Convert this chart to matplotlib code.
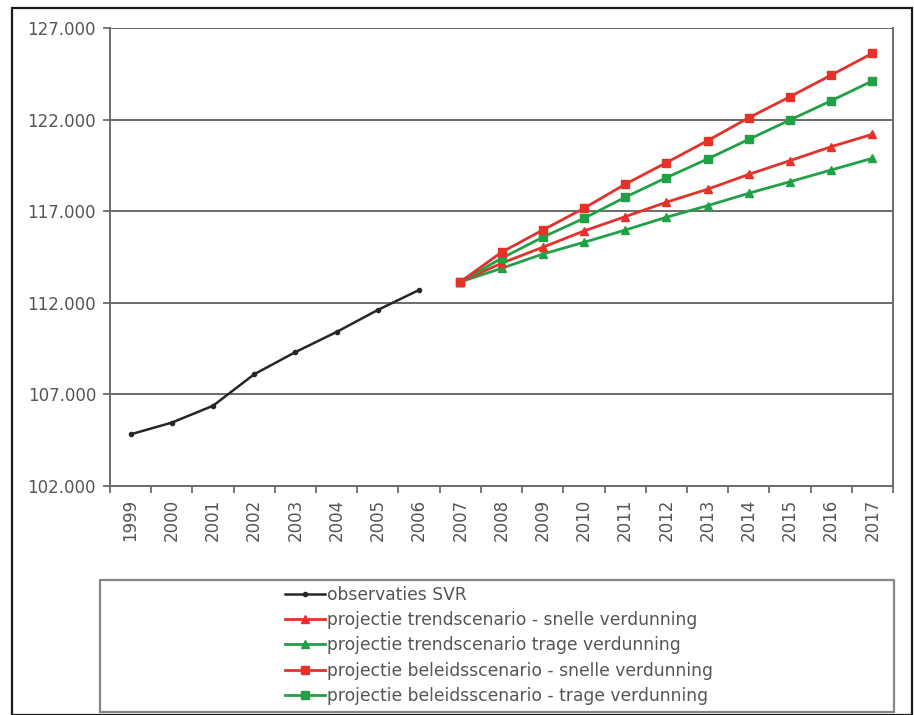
import matplotlib
matplotlib.use("Agg")
import matplotlib.pyplot as plt
from matplotlib.patches import Rectangle
from matplotlib.lines import Line2D
from matplotlib.ticker import FuncFormatter, FixedLocator

plt.rcParams['font.family'] = ['DejaVu Sans']

years = list(range(1999, 2018))
obs_years = list(range(1999, 2007))
proj_years = list(range(2007, 2018))

observaties_svr = [104820, 105460, 106380, 108100, 109310, 110410, 111610, 112700]
trend_snel = [113140, 114160, 115030, 115920, 116700, 117490, 118200, 119010, 119760, 120520, 121200]
trend_traag = [113140, 113880, 114660, 115300, 115970, 116670, 117300, 117980, 118610, 119250, 119890]
beleid_snel = [113140, 114760, 115970, 117160, 118470, 119650, 120850, 122100, 123250, 124430, 125620]
beleid_traag = [113140, 114430, 115580, 116610, 117760, 118830, 119850, 120920, 121980, 123030, 124110]

labels = [
    "observaties SVR",
    "projectie trendscenario - snelle verdunning",
    "projectie trendscenario trage verdunning",
    "projectie beleidsscenario - snelle verdunning",
    "projectie beleidsscenario - trage verdunning",
]

RED = "#e2322a"
GREEN = "#22a046"
DARK = "#262626"
GRID = "#6e6a6a"
TXT = "#585454"

W, H = 914, 715
fig = plt.figure(figsize=(W / 100, H / 100), dpi=100)
fig.patch.set_facecolor("white")

# outer frame
fig.add_artist(Rectangle((12 / W, 0), 900 / W, 1 - 8 / H, transform=fig.transFigure,
                         fill=False, edgecolor="#1a1a1a", linewidth=1.6))

left, right, top, bottom = 110, 893, 28, 486
ax = fig.add_axes([left / W, 1 - bottom / H, (right - left) / W, (bottom - top) / H])

idx = {y: i for i, y in enumerate(years)}
xo = [idx[y] for y in obs_years]
xp = [idx[y] for y in proj_years]

ax.plot(xo, observaties_svr, color=DARK, lw=1.8, marker="o", ms=3, zorder=5)
ax.plot(xp, trend_traag, color=GREEN, lw=2.0, marker="^", ms=6, zorder=4)
ax.plot(xp, trend_snel, color=RED, lw=2.0, marker="^", ms=6, zorder=4)
ax.plot(xp, beleid_traag, color=GREEN, lw=2.0, marker="s", ms=5.5, zorder=4)
ax.plot(xp, beleid_snel, color=RED, lw=2.0, marker="s", ms=5.5, zorder=4)

ax.set_xlim(-0.5, len(years) - 0.5)
ax.set_ylim(102000, 127000)
ax.set_yticks(range(102000, 127001, 5000))
ax.yaxis.set_major_formatter(FuncFormatter(lambda v, p: f"{int(v):,}".replace(",", ".")))
ax.grid(axis="y", color=GRID, lw=1.4)
ax.set_axisbelow(True)

ax.set_xticks(range(len(years)))
ax.set_xticklabels([str(y) for y in years], rotation=90)
ax.xaxis.set_minor_locator(FixedLocator([i - 0.5 for i in range(len(years) + 1)]))
ax.tick_params(axis="x", which="major", length=0, pad=9, labelsize=12, labelcolor=TXT)
ax.tick_params(axis="x", which="minor", length=5, width=1.3, color=GRID, direction="out")
ax.tick_params(axis="y", length=5, width=1.3, color=GRID, pad=5, labelsize=12, labelcolor=TXT)

for s in ["left", "bottom", "right"]:
    ax.spines[s].set_color(GRID)
    ax.spines[s].set_linewidth(1.4)
ax.spines["top"].set_visible(False)

# legend box
fig.add_artist(Rectangle((100 / W, 1 - 712 / H), 794 / W, 132 / H, transform=fig.transFigure,
                         fill=False, edgecolor="#8a8686", linewidth=1.6))
handles = [
    Line2D([], [], color=DARK, lw=1.8, marker="o", ms=3),
    Line2D([], [], color=RED, lw=2.0, marker="^", ms=6),
    Line2D([], [], color=GREEN, lw=2.0, marker="^", ms=6),
    Line2D([], [], color=RED, lw=2.0, marker="s", ms=5.5),
    Line2D([], [], color=GREEN, lw=2.0, marker="s", ms=5.5),
]
leg = fig.legend(handles, labels, loc="upper left", bbox_to_anchor=(285 / W, 1 - 586 / H),
                 frameon=False, fontsize=12.3, handlelength=2.35, handletextpad=0.12,
                 labelspacing=0.42, borderaxespad=0, borderpad=0)
for t in leg.get_texts():
    t.set_color(TXT)

fig.savefig("out.png", dpi=100)
